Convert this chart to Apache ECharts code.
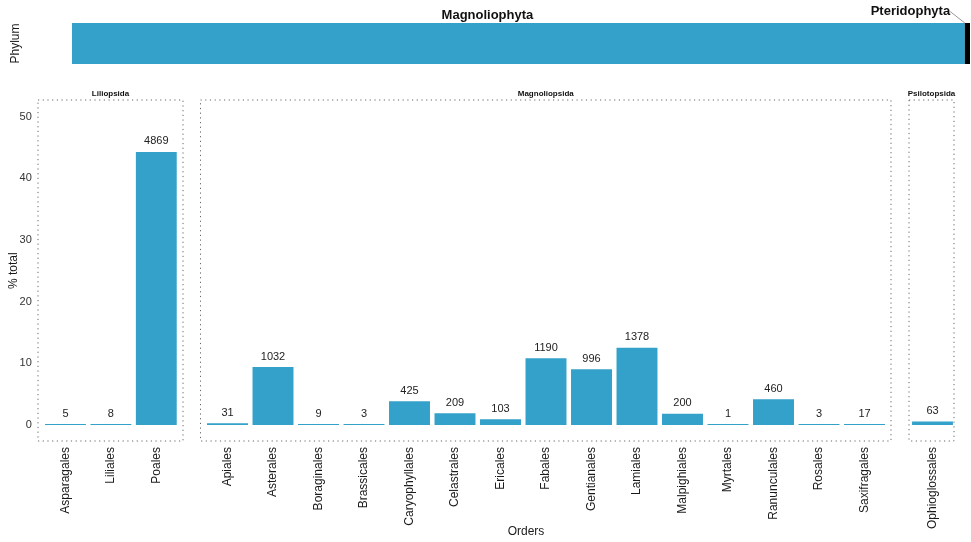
<!DOCTYPE html>
<html>
<head>
<meta charset="utf-8">
<script src="https://cdn.jsdelivr.net/npm/echarts@6/dist/echarts.min.js"></script>
<style>
html,body{margin:0;padding:0;background:#fff;}
#c{width:971px;height:542px;}
</style>
</head>
<body>
<div id="c"></div>
<script>
// ---- data ----
const phyla = ['Magnoliophyta', 'Pteridophyta'];
const phylumCounts = [10939, 63];
const classes = ['Liliopsida', 'Magnoliopsida', 'Psilotopsida'];
const orders1 = ['Asparagales', 'Liliales', 'Poales'];
const counts1 = [5, 8, 4869];
const orders2 = ['Apiales', 'Asterales', 'Boraginales', 'Brassicales', 'Caryophyllales', 'Celastrales', 'Ericales', 'Fabales', 'Gentianales', 'Lamiales', 'Malpighiales', 'Myrtales', 'Ranunculales', 'Rosales', 'Saxifragales'];
const counts2 = [31, 1032, 9, 3, 425, 209, 103, 1190, 996, 1378, 200, 1, 460, 3, 17];
const orders3 = ['Ophioglossales'];
const counts3 = [63];
const yTicks = [0, 10, 20, 30, 40, 50];

// ---- build ----
const FONT = '"Liberation Sans", Arial, Helvetica, sans-serif';
const BLUE = '#33a1c9';
const total = [...counts1, ...counts2, ...counts3].reduce((a, b) => a + b, 0);
const pct = arr => arr.map(v => v / total * 100);

const frames = [
  {left: 38, width: 145},
  {left: 200.5, width: 690.5},
  {left: 909, width: 45}
];
const dataGrids = [
  {left: 42.8, width: 136.2},
  {left: 204.75, width: 682.5},
  {left: 909.8, width: 45.4}
];
const panelOrders = [orders1, orders2, orders3];
const panelCounts = [counts1, counts2, counts3];

const grid = [], xAxis = [], yAxis = [], series = [];

// top phylum strip (grid 0)
grid.push({left: 72, top: 23, width: 898, height: 41});
xAxis.push({type: 'value', gridIndex: 0, min: 0, max: total, show: false});
yAxis.push({type: 'category', gridIndex: 0, data: ['Phylum'], axisLine: {show: false}, axisTick: {show: false},
  axisLabel: {show: false}, name: 'Phylum', nameLocation: 'middle', nameRotate: 90, nameGap: 50,
  nameMoveOverlap: false,
  nameTextStyle: {fontFamily: FONT, fontSize: 12, color: '#1a1a1a'}});
series.push({
  type: 'bar', name: phyla[0], xAxisIndex: 0, yAxisIndex: 0, stack: 'p', barWidth: '100%',
  data: [phylumCounts[0]], itemStyle: {color: BLUE}, silent: true,
  label: {show: true, position: 'top', distance: 1, offset: [-31, 0], formatter: phyla[0],
    fontFamily: FONT, fontSize: 13, fontWeight: 'bold', color: '#111'}
});
series.push({
  type: 'bar', name: phyla[1], xAxisIndex: 0, yAxisIndex: 0, stack: 'p', barWidth: '100%',
  data: [phylumCounts[1]], itemStyle: {color: '#000'}, silent: true,
  label: {show: true, position: 'top', distance: 1, formatter: phyla[1],
    fontFamily: FONT, fontSize: 13, fontWeight: 'bold', color: '#111'},
  labelLayout: {dx: -57, dy: -4},
  labelLine: {show: true, lineStyle: {color: '#999', width: 1}}
});

// frame grids (1..3)
frames.forEach((f, i) => {
  grid.push({left: f.left, width: f.width, top: 100, height: 341, show: true,
    borderColor: '#666', borderWidth: 1, borderType: [1.2, 3.5], backgroundColor: 'transparent'});
  xAxis.push({type: 'value', gridIndex: grid.length - 1, show: false, min: 0, max: 1});
  yAxis.push({type: 'value', gridIndex: grid.length - 1, show: false, min: 0, max: 1});
});

// data grids (4..6)
dataGrids.forEach((g, i) => {
  grid.push({left: g.left, width: g.width, top: 116.5, height: 308.5});
  const gi = grid.length - 1;
  xAxis.push({type: 'category', gridIndex: gi, data: panelOrders[i], axisLine: {show: false}, axisTick: {show: false},
    axisLabel: {rotate: 90, margin: 22, fontFamily: FONT, fontSize: 12, color: '#1a1a1a', interval: 0}});
  yAxis.push({type: 'value', gridIndex: gi, min: 0, max: 50, interval: 10, splitLine: {show: false},
    axisLine: {show: false}, axisTick: {show: false},
    axisLabel: {show: i === 0, margin: 11, fontFamily: FONT, fontSize: 11, color: '#333',
      formatter: v => yTicks.includes(v) ? String(v) : ''},
    name: i === 0 ? '% total' : '', nameLocation: 'middle', nameRotate: 90, nameGap: 23,
    nameMoveOverlap: false,
    nameTextStyle: {fontFamily: FONT, fontSize: 12, color: '#1a1a1a'}});
  const cnt = panelCounts[i];
  series.push({
    type: 'bar', xAxisIndex: gi, yAxisIndex: gi, data: pct(cnt), barCategoryGap: '10%', barMinHeight: 1,
    itemStyle: {color: BLUE}, silent: true,
    label: {show: true, position: 'top', distance: 5, fontFamily: FONT, fontSize: 11, color: '#222',
      formatter: p => String(cnt[p.dataIndex])}
  });
});

const graphic = classes.map((c, i) => ({
  type: 'text', x: frames[i].left + frames[i].width / 2, y: 94,
  style: {text: c, font: 'bold 8px ' + FONT, fill: '#111', textAlign: 'center', textVerticalAlign: 'middle'}
}));
graphic.push({type: 'text', x: 526, y: 532, style: {text: 'Orders', font: '12px ' + FONT, fill: '#1a1a1a', textAlign: 'center', textVerticalAlign: 'middle'}});

const chart = echarts.init(document.getElementById('c'), null, {renderer: 'canvas'});
chart.setOption({animation: false, grid, xAxis, yAxis, series, graphic});
</script>
</body>
</html>
